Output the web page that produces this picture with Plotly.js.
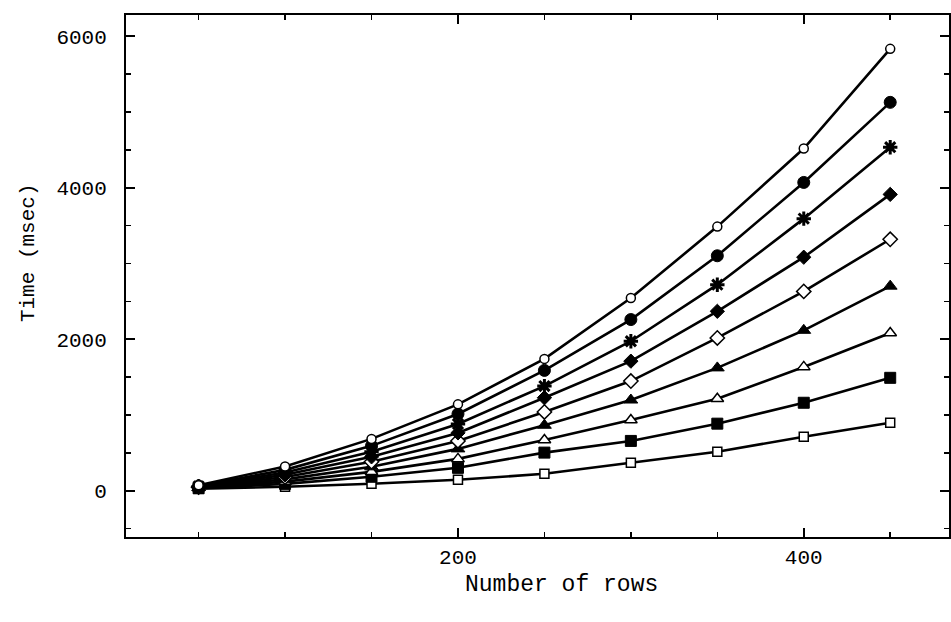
<!DOCTYPE html>
<html>
<head>
<meta charset="utf-8">
<script src="https://cdn.plot.ly/plotly-3.0.1.min.js"></script>
<style>html,body{margin:0;padding:0;background:#fff;}#chart{width:951px;height:622px;}</style>
</head>
<body>
<div id="chart"></div>
<script>
const rows = [50, 100, 150, 200, 250, 300, 350, 400, 450];
const seriesOpenCircle    = [73, 321, 685, 1141, 1741, 2544, 3487, 4517, 5833];
const seriesFilledCircle  = [63, 276, 593, 1014, 1589, 2260, 3102, 4070, 5127];
const seriesStar          = [58, 241, 514, 882, 1382, 1974, 2720, 3592, 4535];
const seriesFilledDiamond = [53, 211, 448, 764, 1228, 1711, 2369, 3083, 3912];
const seriesOpenDiamond   = [48, 181, 382, 658, 1040, 1448, 2017, 2632, 3320];
const seriesFilledTri     = [43, 151, 316, 553, 865, 1198, 1622, 2118, 2701];
const seriesOpenTri       = [38, 121, 250, 421, 671, 934, 1215, 1635, 2083];
const seriesFilledSquare  = [33, 91, 185, 303, 504, 658, 886, 1162, 1491];
const seriesOpenSquare    = [26, 53, 92, 145, 224, 370, 515, 713, 898];

const xTickVals = [200, 400];
const yTickVals = [0, 2000, 4000, 6000];
const xTitle = 'Number of rows';
const yTitle = 'Time (msec)';

function tr(y, symbol, fill, size, lw) {
  return {
    x: rows, y: y, type: 'scatter', mode: 'lines+markers',
    line: {color: '#000', width: 2.6},
    marker: {symbol: symbol, size: size, color: fill, line: {color: '#000', width: lw}},
    showlegend: false, hoverinfo: 'skip'
  };
}

const data = [
  tr(seriesOpenSquare, 'square', '#fff', 9, 1.5),
  tr(seriesFilledSquare, 'square', '#000', 11, 1),
  tr(seriesOpenTri, 'triangle-up', '#fff', 11, 1.5),
  tr(seriesFilledTri, 'triangle-up', '#000', 12, 1),
  tr(seriesOpenDiamond, 'diamond', '#fff', 11, 1.5),
  tr(seriesFilledDiamond, 'diamond', '#000', 11, 1),
  tr(seriesStar, 'asterisk-open', '#000', 12, 3),
  tr(seriesFilledCircle, 'circle', '#000', 12, 1),
  tr(seriesOpenCircle, 'circle', '#fff', 9, 1.5)
];

const fontFam = '"Liberation Mono", "DejaVu Sans Mono", monospace';

const layout = {
  width: 951, height: 622,
  paper_bgcolor: '#fff', plot_bgcolor: '#fff',
  margin: {l: 126, r: 2, t: 15, b: 85},
  font: {family: fontFam, color: '#000', size: 18},
  xaxis: {
    range: [8, 484],
    tickvals: xTickVals, ticktext: xTickVals.map(String),
    ticks: 'inside', ticklen: 9, tickwidth: 2, tickcolor: '#000',
    minor: {dtick: 50, tick0: 0, ticks: 'inside', ticklen: 5, tickwidth: 1.5, tickcolor: '#000'},
    showline: true, linecolor: '#000', linewidth: 2, mirror: 'ticks',
    showgrid: false, zeroline: false,
    tickfont: {family: fontFam, size: 21, color: '#000'}
  },
  yaxis: {
    range: [-610, 6280],
    tickvals: yTickVals, ticktext: yTickVals.map(String),
    ticks: 'inside', ticklen: 9, tickwidth: 2, tickcolor: '#000',
    minor: {dtick: 500, tick0: 0, ticks: 'inside', ticklen: 5, tickwidth: 1.5, tickcolor: '#000'},
    showline: true, linecolor: '#000', linewidth: 2, mirror: 'ticks',
    showgrid: false, zeroline: false,
    tickfont: {family: fontFam, size: 21, color: '#000'},
    ticklabelstandoff: 13
  },
  annotations: [
    {text: xTitle, xref: 'paper', yref: 'paper', x: 0.5286, y: -0.092,
     xanchor: 'center', yanchor: 'middle', showarrow: false,
     font: {family: fontFam, size: 23, color: '#000'}},
    {text: yTitle, xref: 'paper', yref: 'paper', x: -0.119, y: 0.544,
     xanchor: 'center', yanchor: 'middle', textangle: -90, showarrow: false,
     font: {family: fontFam, size: 21, color: '#000'}}
  ]
};

Plotly.newPlot('chart', data, layout, {staticPlot: true, displayModeBar: false});
</script>
</body>
</html>
